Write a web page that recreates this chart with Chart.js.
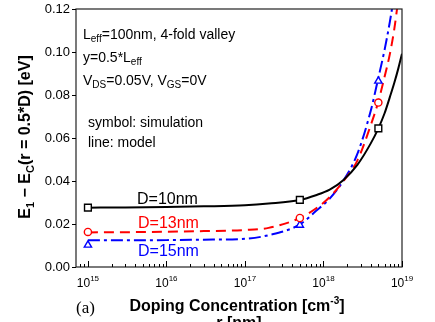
<!DOCTYPE html>
<html>
<head>
<meta charset="utf-8">
<script src="https://cdn.jsdelivr.net/npm/chart.js@4.4.0/dist/chart.umd.min.js"></script>
<style>
html, body { margin: 0; padding: 0; background: #fff; }
canvas { display: block; }
</style>
</head>
<body>
<canvas id="chart" width="435" height="322"></canvas>
<script>
// model curves (lines)
const dopingModel = [1e15, 3e15, 1e16, 3e16, 1e17, 2e17, 5e17, 8e17, 1.2e18, 1.8e18, 2.7e18, 4e18, 5e18, 6e18, 7e18, 8e18, 9e18, 1e19]
const modelD10 = [0.0276, 0.0277, 0.0279, 0.0282, 0.0287, 0.0295, 0.0312, 0.0334, 0.0360, 0.0405, 0.0475, 0.0575, 0.0645, 0.0715, 0.0790, 0.0858, 0.0925, 0.0992]
const modelD13 = [0.0161, 0.0162, 0.0164, 0.0167, 0.0172, 0.0182, 0.0228, 0.0272, 0.0325, 0.0400, 0.0495, 0.0660, 0.0770, 0.0885, 0.0990, 0.1110, 0.1250]
const modelD15 = [0.0124, 0.0124, 0.0125, 0.0127, 0.0131, 0.0148, 0.0198, 0.0260, 0.0318, 0.0403, 0.0526, 0.0727, 0.0880, 0.1010, 0.1140, 0.1270]

// simulation (symbols)
const dopingSim = [1e15, 5e17, 5e18]
const simD10 = [0.0276, 0.0312, 0.0645]
const simD13 = [0.0163, 0.0228, 0.0765]
const simD15 = [0.0102, 0.0195, 0.0865]

const yTicks = [0, 0.02, 0.04, 0.06, 0.08, 0.10, 0.12]
const xDecades = [15, 16, 17, 18, 19]

function pts(xs, ys){
    let out = []
    for(let i = 0; i < ys.length; i++){
        out.push({x: xs[i], y: ys[i]})
    }
    return out
}

const SANS = '"Liberation Sans", Arial, sans-serif'

// parts: [text, size, dy, bold, color]
function richText(ctx, parts, x, y, align){
    let w = 0
    for(const p of parts){
        ctx.font = (p[3] ? 'bold ' : '') + p[1] + 'px ' + SANS
        w += ctx.measureText(p[0]).width
    }
    let cx = align == 'center' ? x - w/2 : align == 'right' ? x - w : x
    for(const p of parts){
        ctx.font = (p[3] ? 'bold ' : '') + p[1] + 'px ' + SANS
        if(p[4]) ctx.fillStyle = p[4]
        ctx.fillText(p[0], cx, y + p[2])
        cx += ctx.measureText(p[0]).width
    }
}

const decorations = {
    id: 'decorations',
    afterDraw(chart){
        const ctx = chart.ctx
        const a = chart.chartArea
        const xs = chart.scales.x
        const ys = chart.scales.y
        ctx.save()
        ctx.textAlign = 'left'
        ctx.textBaseline = 'alphabetic'

        // frame
        ctx.strokeStyle = '#222'
        ctx.lineWidth = 1.2
        ctx.strokeRect(a.left, a.top, a.right - a.left, a.bottom - a.top)

        // x ticks (inside), major + minor
        ctx.lineWidth = 1
        ctx.strokeStyle = '#000'
        for(let e = 14; e <= 19; e++){
            for(let m = 1; m <= 9; m++){
                let v = m*Math.pow(10, e)
                if(v < xs.min*0.999 || v > xs.max*1.001) continue
                let px = Math.round(xs.getPixelForValue(v)) + 0.5
                let len = m == 1 ? 6 : 3
                ctx.beginPath()
                ctx.moveTo(px, a.bottom)
                ctx.lineTo(px, a.bottom - len)
                ctx.stroke()
            }
        }
        // y ticks (outside)
        for(const v of yTicks){
            let py = Math.round(ys.getPixelForValue(v)) + 0.5
            ctx.beginPath()
            ctx.moveTo(a.left - 4, py)
            ctx.lineTo(a.left, py)
            ctx.stroke()
        }

        ctx.fillStyle = '#000'
        // y tick labels
        ctx.font = '13px ' + SANS
        ctx.textAlign = 'right'
        ctx.textBaseline = 'middle'
        for(const v of yTicks){
            ctx.fillText(v.toFixed(2), a.left - 6, ys.getPixelForValue(v))
        }
        ctx.textAlign = 'left'
        ctx.textBaseline = 'alphabetic'
        // x tick labels
        for(const e of xDecades){
            let px = xs.getPixelForValue(Math.pow(10, e))
            richText(ctx, [['10', 12, 0], [String(e), 8, -6]], px, a.bottom + 20, 'center')
        }

        // axis titles
        richText(ctx, [['Doping Concentration [cm', 16, 0, true], ['-3', 10, -7, true], [']', 16, 0, true]], 237, 311, 'center')
        richText(ctx, [['r [nm]', 16, 0, true]], 239, 328, 'center')
        ctx.font = '17px "Liberation Serif", "Times New Roman", serif'
        ctx.fillText('(a)', 76, 313)

        ctx.save()
        ctx.translate(30, 137)
        ctx.rotate(-Math.PI/2)
        richText(ctx, [['E', 16, 0, true], ['1', 11, 4, true], [' \u2212 E', 16, 0, true], ['C', 11, 4, true], ['(r = 0.5*D) [eV]', 16, 0, true]], 0, 0, 'center')
        ctx.restore()

        // annotations
        let x0 = a.left + 7
        richText(ctx, [['L', 14, 0], ['eff', 10, 3], ['=100nm, 4-fold valley', 14, 0]], x0, 39, 'left')
        richText(ctx, [['y=0.5*L', 14, 0], ['eff', 10, 3]], x0, 62, 'left')
        richText(ctx, [['V', 14, 0], ['DS', 10, 3], ['=0.05V, V', 14, 0], ['GS', 10, 3], ['=0V', 14, 0]], x0, 85, 'left')
        richText(ctx, [['symbol: simulation', 14, 0]], a.left + 12, 127, 'left')
        richText(ctx, [['line: model', 14, 0]], a.left + 12, 147, 'left')

        richText(ctx, [['D=10nm', 16, 0, false, '#000']], 137, 204, 'left')
        richText(ctx, [['D=13nm', 16, 0, false, '#ff0000']], 138, 228, 'left')
        richText(ctx, [['D=15nm', 16, 0, false, '#0000ff']], 138, 256, 'left')
        ctx.restore()
    }
}

const ctx = document.getElementById('chart').getContext('2d')
const myChart = new Chart(ctx, {
    type: 'line',
    data: {
        datasets: [
            {label: 'sim D=10nm', data: pts(dopingSim, simD10), showLine: false, pointStyle: 'rect', pointRadius: 4.8, borderColor: '#000', backgroundColor: '#fff', pointBorderWidth: 1.4},
            {label: 'sim D=13nm', data: pts(dopingSim, simD13), showLine: false, pointStyle: 'circle', pointRadius: 3.6, borderColor: '#ff0000', backgroundColor: '#fff', pointBorderWidth: 1.4},
            {label: 'sim D=15nm', data: pts(dopingSim, simD15), showLine: false, pointStyle: 'triangle', pointRadius: 4.2, borderColor: '#0000ff', backgroundColor: '#fff', pointBorderWidth: 1.4},
            {label: 'model D=10nm', data: pts(dopingModel, modelD10), borderColor: '#000', borderWidth: 2, pointRadius: 0, cubicInterpolationMode: 'monotone'},
            {label: 'model D=13nm', data: pts(dopingModel, modelD13), borderColor: '#ff0000', borderWidth: 2, borderDash: [10, 6], pointRadius: 0, cubicInterpolationMode: 'monotone'},
            {label: 'model D=15nm', data: pts(dopingModel, modelD15), borderColor: '#0000ff', borderWidth: 2, borderDash: [12, 4, 3, 4], pointRadius: 0, cubicInterpolationMode: 'monotone'},
        ]
    },
    options: {
        responsive: false,
        animation: false,
        layout: {padding: {left: 76, right: 33, top: 9, bottom: 55}},
        plugins: {legend: {display: false}, tooltip: {enabled: false}},
        scales: {
            x: {type: 'logarithmic', min: 7.05e14, max: 1e19, display: false},
            y: {type: 'linear', min: 0, max: 0.12, display: false}
        }
    },
    plugins: [decorations]
})
</script>
</body>
</html>
